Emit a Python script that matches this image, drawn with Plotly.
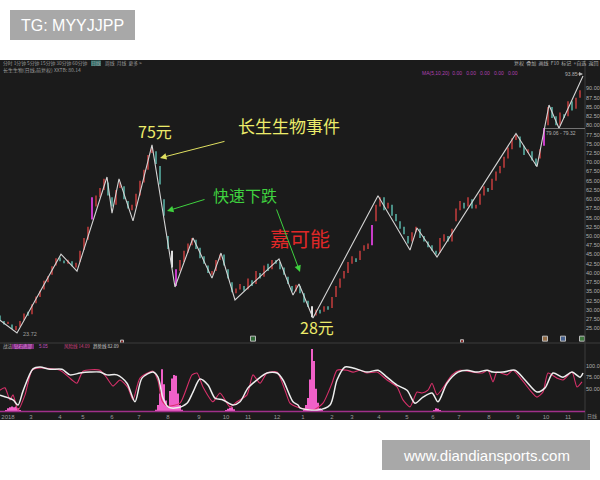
import plotly.graph_objects as go

W, H = 600, 480

# ---------------- data ----------------
bar_open = [28.5, 27.0, 26.2, 26.0, 24.5, 25.4, 27.2, 29.5, 28.8, 31.8,
            33.5, 35.5, 37.5, 39.5, 42.0, 44.2, 43.4, 42.5, 43.2, 41.5,
            43.0, 46.2, 49.0, 54.5, 58.0, 60.5, 62.5, 64.5, 60.5, 58.5,
            63.0, 63.5, 59.5, 57.0, 58.0, 61.0, 64.5, 68.0, 72.5, 73.0,
            69.0, 60.0, 50.0, 46.0, 36.5, 40.5, 43.0, 45.5, 47.5, 49.0,
            46.8, 44.5, 42.0, 39.5, 40.5, 43.5, 45.0, 41.0, 37.5, 34.5,
            35.5, 36.5, 35.5, 38.0, 37.0, 40.0, 39.0, 42.5, 41.0, 43.5,
            43.0, 41.5, 39.0, 36.5, 35.0, 36.5, 34.5, 32.5, 31.0, 28.5,
            30.0, 29.5, 31.0, 30.5, 33.5, 36.0, 38.5, 40.0, 42.5, 44.0,
            43.5, 46.0, 46.5, 47.5, 54.0, 58.0, 60.5, 57.5, 58.5, 56.0,
            54.0, 52.5, 50.0, 48.5, 51.0, 52.0, 50.0, 48.5, 47.5, 46.0,
            45.5, 48.5, 50.0, 48.5, 54.0, 57.0, 59.0, 58.0, 60.0, 57.5,
            58.5, 61.0, 63.0, 62.5, 65.0, 67.0, 68.5, 71.0, 73.5, 76.0,
            77.0, 74.5, 72.5, 73.0, 71.0, 71.0, 74.5, 80.0, 85.0, 82.5,
            80.0, 83.0, 82.5, 86.5, 84.5, 87.5]
bar_close = [27.0, 26.0, 26.8, 24.8, 25.6, 27.0, 29.0, 28.4, 31.5, 33.6,
             35.2, 37.9, 39.2, 41.8, 44.0, 43.2, 42.6, 43.6, 41.8, 42.8,
             46.0, 49.5, 52.5, 60.5, 61.0, 63.0, 65.5, 61.0, 58.0, 62.5,
             64.5, 60.0, 57.5, 58.5, 61.5, 65.0, 68.0, 72.0, 74.0, 69.5,
             64.0, 55.5, 46.5, 41.5, 41.0, 43.5, 46.0, 48.0, 49.5, 46.5,
             44.0, 42.5, 40.0, 40.5, 43.5, 45.0, 42.0, 38.5, 34.8, 35.8,
             37.0, 35.2, 38.5, 36.5, 40.5, 38.5, 42.0, 40.5, 43.5, 42.5,
             41.0, 39.5, 37.0, 35.0, 36.8, 34.5, 32.0, 30.8, 28.0, 30.0,
             29.0, 31.0, 30.0, 33.5, 36.5, 38.5, 40.5, 43.0, 44.5, 43.0,
             46.0, 47.5, 48.0, 53.0, 58.5, 60.5, 57.0, 59.0, 55.5, 54.0,
             52.0, 50.5, 48.0, 51.0, 52.5, 49.5, 48.5, 47.0, 46.0, 45.0,
             49.5, 50.5, 48.5, 52.0, 57.5, 59.5, 57.5, 60.5, 57.5, 58.5,
             61.5, 63.5, 62.0, 65.5, 67.5, 69.0, 71.5, 74.0, 76.5, 77.5,
             74.0, 72.0, 73.5, 70.5, 69.0, 73.5, 79.3, 85.0, 82.0, 80.0,
             83.5, 82.0, 86.5, 84.0, 87.5, 89.5]
magenta_bars = [23, 44, 93, 136]
white_bars = [43, 78]

zz_x = [0, 4.25, 15.25, 19.25, 26.75, 28, 29.75, 33.25, 38, 43.75, 48.25, 53,
        55.25, 58.75, 69.75, 73.25, 74.75, 78.25, 94.5, 102.5, 104.25, 109.25,
        129, 134.25, 137.25, 139.75, 145.75]
zz_y = [27.2, 23.72, 45.1, 40.5, 66.0, 56.2, 65.5, 54.1, 74.7, 36.2, 49.5, 38.6,
        45.4, 32.7, 43.8, 34.0, 37.0, 27.8, 60.9, 46.2, 52.2, 44.3,
        77.8, 68.8, 85.5, 79.2, 93.4]

price_ticks = [25 + 2.5 * k for k in range(27)]

month_pos = [2.0, 7.75, 15, 20.75, 28, 34.75, 42, 49.75, 56.5, 62, 69.25,
             75.75, 83, 88, 94.75, 101.75, 108.25, 114.75, 122.25, 129.5, 136.5, 142]
month_lbl = ["2018", "3", "4", "5", "6", "7", "8", "9", "10", "11", "12",
             "1", "2", "3", "4", "5", "6", "7", "8", "9", "10", "11"]

osc_white_x = [0, 3.25, 4.5, 5.75, 8.25, 10, 12.5, 15.5, 17.5, 20, 22.5, 25, 26.75,
               29.25, 31.75, 33.75, 35.5, 38.25, 39.5, 40.75, 42, 44.25, 46.75,
               48.25, 50, 52, 53.75, 55.75, 58.25, 60, 62, 64.25, 66.75, 69.25,
               70.75, 73.25, 74.5, 75, 79.25, 82.5, 84.25, 86.25, 88.25, 91.75,
               94.5, 96.75, 99.25, 101.75, 103.75, 105.75, 108, 109.5, 111.75,
               114.5, 116.75, 119.25, 121.75, 123.25, 125.75, 128.75, 131.25,
               134.25, 136.25, 138.25, 140.75, 143, 145, 145.75]
osc_white_y = [36, 26, 15, 45, 93, 97, 92, 92, 80, 84, 86, 86, 80,
               80, 62, 22, 73, 86, 75, 30, 11, 9, 19,
               43, 71, 58, 30, 26, 15, 22, 52, 69, 84, 84,
               69, 22, 15, 9, 4, 15, 69, 97, 95, 86,
               90, 75, 58, 47, 19, 32, 41, 22, 62,
               86, 90, 86, 90, 86, 86, 90, 69,
               43, 52, 84, 75, 86, 75, 84]

osc_red_x = [0, 1.25, 2.5, 3.25, 4.5, 6.25, 8, 10, 15, 18, 19.25, 20.75, 25, 26.75,
             28.25, 30, 32, 33.25, 35, 38.25, 39.5, 40.5, 41.75, 45, 48, 49.25,
             50.75, 53.25, 55, 57.5, 59.25, 61.75, 63.25, 65, 66.75, 69.25, 71.25,
             72.5, 74.25, 78.25, 80.75, 83, 84.25, 86.75, 88.25, 90, 91.75, 94.25,
             96.75, 99.25, 100.75, 102.5, 104.25, 105.5, 107, 108, 109.25, 110.75,
             113, 115, 118.25, 120.5, 122, 123.25, 124.25, 126.75, 128.25, 130.5,
             132.5, 134.25, 135.75, 137, 139.25, 140.75, 143, 144.25, 145.5]
osc_red_y = [47, 52, 26, 37, 4, 37, 90, 95, 90, 69, 62, 88, 90, 73,
             56, 69, 52, 26, 73, 88, 67, 24, 13, 19, 80, 84,
             54, 22, 41, 11, 22, 37, 80, 62, 84, 86, 47,
             19, 11, 4, 19, 62, 90, 90, 86, 90, 84, 86,
             69, 54, 26, 11, 43, 41, 47, 62, 37, 52,
             80, 90, 86, 84, 90, 65, 86, 80, 90, 69,
             47, 32, 43, 84, 73, 69, 86, 54, 65]

hist_x = [1.5, 2, 2.5, 3, 3.5, 4, 4.5, 5,
          39, 39.5, 40, 40.5, 41, 41.5, 42, 42.5, 43, 43.5, 44, 44.5, 45, 45.5,
          56.5, 57, 57.5, 58, 58.5, 59,
          76, 76.5, 77, 77.5, 78, 78.5, 79, 79.5, 80, 80.5,
          108.5, 109, 109.5, 110]
hist_y = [3, 8, 10, 12, 10, 12, 8, 4,
          5, 15, 40, 92, 60, 25, 10, 45, 72, 80, 78, 40, 15, 5,
          3, 7, 9, 10, 6, 2,
          5, 15, 30, 70, 136, 110, 50, 20, 8, 3,
          3, 8, 7, 4]

event_x = [30.5, 63.25, 115.5, 136.25, 140.75, 145.5]
event_y = [21.4, 22.2, 21.5, 22.2, 22.2, 22.2]
event_c = ["#c03030", "#3c8c46", "#c03030", "#c8905a", "#5a80c0", "#50a050"]
event_s = [3, 5, 3, 5, 5, 5]

# ---------------- helpers (layout only) ----------------
def px(x):
    return x / W

def py(y):
    return 1 - y / H

CJK = "Noto Sans CJK SC"
GRAY = "#a8a8a8"

colors = []
for i, (o, c) in enumerate(zip(bar_open, bar_close)):
    if i in magenta_bars:
        colors.append("#c83cc8")
    elif i in white_bars:
        colors.append("#e0e0e0")
    elif c >= o:
        colors.append("#9a3434")
    else:
        colors.append("#4a8f86")

fig = go.Figure()

# candles (bodies)
fig.add_trace(go.Bar(
    x=list(range(len(bar_open))),
    y=[c - o for o, c in zip(bar_open, bar_close)],
    base=bar_open, width=0.45, marker=dict(color=colors, line_width=0),
    xaxis="x2", yaxis="y", showlegend=False, hoverinfo="skip"))

# zigzag
fig.add_trace(go.Scatter(x=zz_x, y=zz_y, mode="lines",
                         line=dict(color="#d4d4d4", width=1.1),
                         xaxis="x2", yaxis="y", showlegend=False))

# event markers
fig.add_trace(go.Scatter(x=event_x, y=event_y, mode="markers",
                         marker=dict(symbol="square", color=event_c, size=event_s),
                         xaxis="x2", yaxis="y", showlegend=False))

# indicator histogram
fig.add_trace(go.Bar(x=hist_x, y=hist_y, width=0.5,
                     marker=dict(color="#f060c8", line_width=0),
                     xaxis="x", yaxis="y2", showlegend=False))
# indicator lines
fig.add_trace(go.Scatter(x=osc_red_x, y=osc_red_y, mode="lines",
                         line=dict(color="#d8306a", width=1.1, shape="spline", smoothing=0.6),
                         xaxis="x", yaxis="y2", showlegend=False))
fig.add_trace(go.Scatter(x=osc_white_x, y=osc_white_y, mode="lines",
                         line=dict(color="#eeeeee", width=1.5, shape="spline", smoothing=0.8),
                         xaxis="x", yaxis="y2", showlegend=False))

xdom = [0, px(585)]
fig.update_layout(
    width=W, height=H,
    margin=dict(l=0, r=0, t=0, b=0),
    paper_bgcolor="white", plot_bgcolor="rgba(0,0,0,0)",
    barmode="overlay",
    xaxis=dict(domain=xdom, range=[0, 146.25], anchor="y2",
               showgrid=False, zeroline=False, showline=False,
               tickmode="array", tickvals=month_pos, ticktext=month_lbl,
               ticks="", tickfont=dict(size=6, color="#9a9a9a", family="Liberation Sans")),
    xaxis2=dict(domain=xdom, range=[0, 146.25], anchor="y", matches="x",
                showgrid=False, zeroline=False, showline=False, showticklabels=False),
    yaxis=dict(domain=[py(343), py(62)], range=[21.02, 97.17], anchor="x2",
               side="right", showgrid=False, zeroline=False, showline=False,
               tickmode="array", tickvals=price_ticks,
               ticktext=["%.2f" % v for v in price_ticks], ticks="",
               tickfont=dict(size=5.5, color="#b0b0b0", family="Liberation Sans")),
    yaxis2=dict(domain=[py(412), py(343)], range=[0, 148.7], anchor="x",
                side="right", showgrid=False, zeroline=False, showline=False,
                tickmode="array", tickvals=[50, 75, 100],
                ticktext=["50.00", "75.00", "100.0"], ticks="",
                tickfont=dict(size=5.5, color="#b0b0b0", family="Liberation Sans")),
)

shapes = [
    dict(type="rect", xref="paper", yref="paper", x0=0, x1=1, y0=py(420), y1=py(60),
         fillcolor="#1b1b1b", line_width=0, layer="below"),
    dict(type="line", xref="paper", yref="paper", x0=px(585), x1=px(585), y0=py(420), y1=py(60),
         line=dict(color="#3c3c3c", width=1)),
    dict(type="line", xref="paper", yref="paper", x0=0, x1=1, y0=py(343), y1=py(343),
         line=dict(color="#3c3c3c", width=1)),
    dict(type="line", xref="paper", yref="paper", x0=0, x1=px(585), y0=py(411.5), y1=py(411.5),
         line=dict(color="#a0308a", width=1.5)),
    dict(type="line", xref="paper", yref="paper", x0=px(545), x1=px(585), y0=py(128.5), y1=py(128.5),
         line=dict(color="#8a8a8a", width=0.8)),
    # gray label boxes
    dict(type="rect", xref="paper", yref="paper", x0=px(10), x1=px(135), y0=py(40), y1=py(10),
         fillcolor=GRAY, line_width=0),
    dict(type="rect", xref="paper", yref="paper", x0=px(382), x1=px(590), y0=py(470), y1=py(440),
         fillcolor=GRAY, line_width=0),
    # toolbar highlight
    dict(type="rect", xref="paper", yref="paper", x0=px(91), x1=px(101), y0=py(66), y1=py(60.5),
         fillcolor="#2f6f6a", line_width=0),
    dict(type="rect", xref="paper", yref="paper", x0=px(11.5), x1=px(34), y0=py(349), y1=py(344),
         fillcolor="#7a2a7a", line_width=0),
]
fig.update_layout(shapes=shapes)

ann = []

def T(x, y, text, size, color, family=CJK, xanchor="center", **kw):
    ann.append(dict(xref="paper", yref="paper", x=px(x), y=py(y), text=text,
                    showarrow=False, xanchor=xanchor, yanchor="middle",
                    font=dict(size=size, color=color, family=family), **kw))

def A(hx, hy, tx, ty, color):
    ann.append(dict(xref="paper", yref="paper", x=px(hx), y=py(hy), text="",
                    showarrow=True, ax=tx - hx, ay=ty - hy, arrowcolor=color,
                    arrowwidth=1, arrowhead=2, arrowsize=1.3))

# watermarks
T(72, 25, "TG: MYYJJPP", 16, "white", family="Liberation Sans")
T(486, 455, "www.diandiansports.com", 15, "white", family="Liberation Sans")

# toolbar
T(0.5, 63.3, "分时 1分钟 5分钟 15分钟 30分钟 60分钟", 4.8, "#9a9a9a", xanchor="left")
T(96, 63.3, "日线", 4.8, "#9a9a9a")
T(103, 63.3, "周线  月线  更多 >", 4.8, "#9a9a9a", xanchor="left")
T(0.5, 70.5, "长生生物(日线,前复权) XXTB: 80.14", 5, "#9a9a9a", xanchor="left")
T(556, 63.3, "复权  叠加  画线  F10  标记  +自选  返回", 5, "#b0b0b0")
T(420, 73.5, "MA(5,10,20)  0.00   0.00   0.00   0.00   0.00", 5, "#b040b0",
  family="Liberation Sans", xanchor="left")
T(563, 74, "93.85", 5, "#b0b0b0", family="Liberation Sans", xanchor="left")
T(561, 132.5, "79.06 - 79.32", 5, "#b0b0b0", family="Liberation Sans")
T(21, 334, "23.72", 5.5, "#a0a0a0", family="Liberation Sans", xanchor="left")
T(592, 416, "日线", 5, "#9a9a9a")

# indicator header
T(0.5, 346.5, "战法", 4.5, "#b0b0b0", xanchor="left")
T(23, 346.5, "钻石底部", 4.5, "#e090e0")
T(37, 346.5, "5.05", 4.5, "#c050c0", family="Liberation Sans", xanchor="left")
T(62, 346.5, "风险线 14.09", 4.5, "#d04080", xanchor="left")
T(91, 346.5, "趋势线 82.09", 4.5, "#d0d0d0", xanchor="left")

# chart annotations
T(155, 131, "75元", 16, "#ecec6a")
T(289, 125, "长生生物事件", 17, "#ecec6a")
T(245, 195, "快速下跌", 16, "#3fd23f")
T(300, 238, "嘉可能", 20, "#e02828")
T(317, 327, "28元", 16, "#ecec6a")

A(160, 158, 226, 141, "#e0e060")
A(167, 211, 206, 199, "#3fd23f")
A(300, 272, 276, 208, "#3fd23f")
ann.append(dict(xref="paper", yref="paper", x=px(583), y=py(74), text="",
                showarrow=True, ax=-7, ay=0, arrowcolor="#b0b0b0",
                arrowwidth=0.8, arrowhead=2, arrowsize=1))

fig.update_layout(annotations=ann)

fig.write_html("out.html", config={"displayModeBar": False},
               post_script="document.body.style.margin='0';document.body.style.overflow='hidden';")
